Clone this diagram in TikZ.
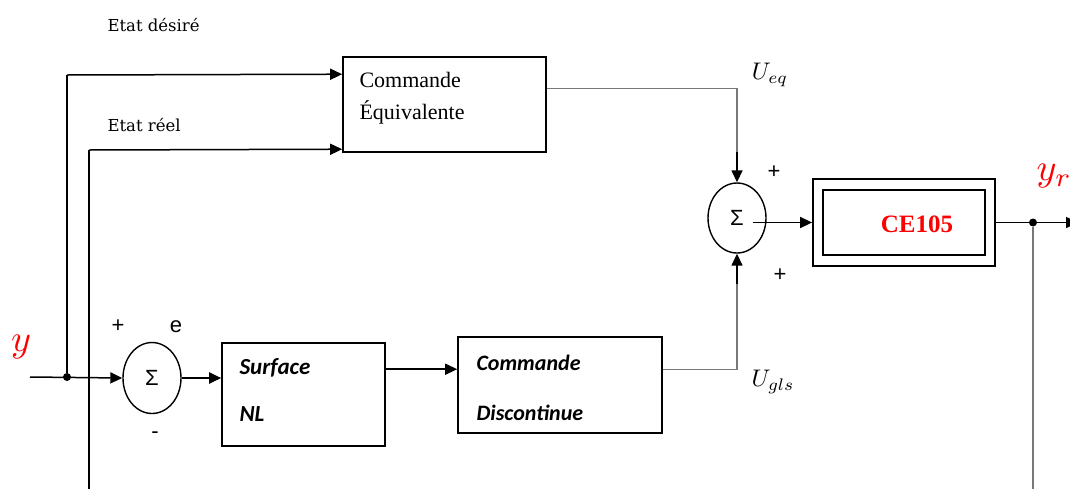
\documentclass[tikz,border=0pt]{standalone}
\usepackage{fontspec}
\usepackage{amsmath}
\usetikzlibrary{arrows.meta,shapes.geometric}
\newfontfamily\timesfont{Liberation Serif}
\newfontfamily\califont{Carlito}
\newfontfamily\arialfont{Liberation Sans}
\newfontfamily\etatfont{DejaVu Serif}
\definecolor{linegray}{RGB}{120,120,120}
\tikzset{
  blockbox/.style={draw, line width=1.6pt, inner sep=0pt},
  sumnode/.style={draw, ellipse, line width=1.4pt, minimum width=58pt, minimum height=71pt, inner sep=0pt, font=\arialfont\fontsize{22}{26}\selectfont},
  arr/.style={-{Triangle[length=12pt,width=11pt]}, line width=1.5pt},
  etat/.style={anchor=west, font=\etatfont\fontsize{16.5}{20}\selectfont},
  times/.style={anchor=west, font=\timesfont\fontsize{22}{26}\selectfont},
  calib/.style={anchor=west, font=\califont\bfseries\itshape\fontsize{23}{27}\selectfont},
  signe/.style={font=\arialfont\fontsize{22}{26}\selectfont},
  jonction/.style={circle, fill=black, inner sep=0pt, minimum size=8pt}
}
\begin{document}
\begin{tikzpicture}[x=1pt,y=-1pt]
	\useasboundingbox (0,0) rectangle (1070,488);
	
	% blocs
	\node[blockbox, minimum width=203pt, minimum height=95pt] (equiv) at (444.5,104.5) {};
	\node[blockbox, minimum width=163pt, minimum height=103pt] (surf) at (303.5,394.5) {};
	\node[blockbox, minimum width=204pt, minimum height=96pt] (disc) at (560,385) {};
	\node[blockbox, line width=1.8pt, minimum width=182pt, minimum height=87pt] (ce) at (904,222.5) {};
	\node[blockbox, line width=1.8pt, minimum width=162pt, minimum height=65pt] (cein) at (904,222.5) {};
	\node[sumnode] (sum1) at (152,378) {Σ};
	\node[sumnode, minimum height=70pt] (sum2) at (737,218) {Σ};
	
	% textes des blocs
	\node[times] (eqa) at (356,80) {Commande};
	\node[times] (eqb) at (356,112) {Équivalente};
	\node[calib] (sfa) at (236,368) {Surface};
	\node[calib] (sfb) at (236,414) {NL};
	\node[calib, font=\califont\bfseries\itshape\fontsize{22}{26}\selectfont] (dca) at (473,363) {Commande};
	\node[calib, font=\califont\bfseries\itshape\fontsize{22}{26}\selectfont] (dcb) at (473,413) {Discontinue};
	\node[text=red, font=\timesfont\bfseries\fontsize{25}{30}\selectfont] (celbl) at (917,224) {CE105};
	
	% points
	\coordinate (in) at (30,377);
	\node[jonction] (dotl) at (67,377) {};
	\coordinate (fbl) at (89,492);
	\node[jonction] (dotr) at (1033,222.5) {};
	\coordinate (fbr) at (1033,492);
	\coordinate (out) at (1078,222.5);
	
	% liaisons
	\draw[arr] (in) -- (sum1.west);
	\draw[line width=1.2pt] (dotl) -- (dotl |- 0,75);
	\draw[arr] (dotl |- 0,75) -- ([yshift=-18pt]equiv.north west);
	\draw[line width=1.2pt] (fbl) -- (fbl |- 0,150);
	\draw[arr] (fbl |- 0,150) -- ([yshift=-93pt]equiv.north west);
	\draw[arr, line width=2.2pt] (sum1.east) -- (sum1.east -| surf.west);
	\draw[arr] ([yshift=-27pt]surf.north east) -- ([yshift=-27pt]surf.north east -| disc.west);
	\draw[linegray, line width=1.4pt] ([yshift=-33pt]disc.north east) -| ([yshift=-30pt]sum2.south);
	\draw[arr] ([yshift=-30pt]sum2.south) -- (sum2.south);
	\draw[linegray, line width=1.3pt] ([yshift=-32pt]equiv.north east) -| ([yshift=30pt]sum2.north);
	\draw[arr] ([yshift=30pt]sum2.north) -- (sum2.north);
	\draw[arr] ([xshift=-14pt]sum2.east |- ce.west) -- (ce.west);
	\draw[arr] (ce.east) -- (out);
	\draw[linegray, line width=1.4pt] (dotr) -- (fbr);
	
	% etiquettes
	\node[etat] (ldes) at (104,25) {Etat désiré};
	\node[etat] (lreel) at (104,125) {Etat réel};
	\node[text=red] (ly) at (21,347) {\scalebox{3.8}{$y$}};
	\node[text=red, anchor=west] (lyr) at (1033,176) {\scalebox{3.8}{$y_r$}};
	\node[signe] (p1) at (118,326) {+};
	\node[signe] (le) at (176,327) {e};
	\node[signe] (m1) at (155,435) {-};
	\node[signe] (p2) at (774,172) {+};
	\node[signe] (p3) at (780,275) {+};
	\node (lueq) at (770,75) {\scalebox{2.4}{$U_{eq}$}};
	\node (lugls) at (773,382) {\scalebox{2.4}{$U_{gls}$}};
\end{tikzpicture}
\end{document}
